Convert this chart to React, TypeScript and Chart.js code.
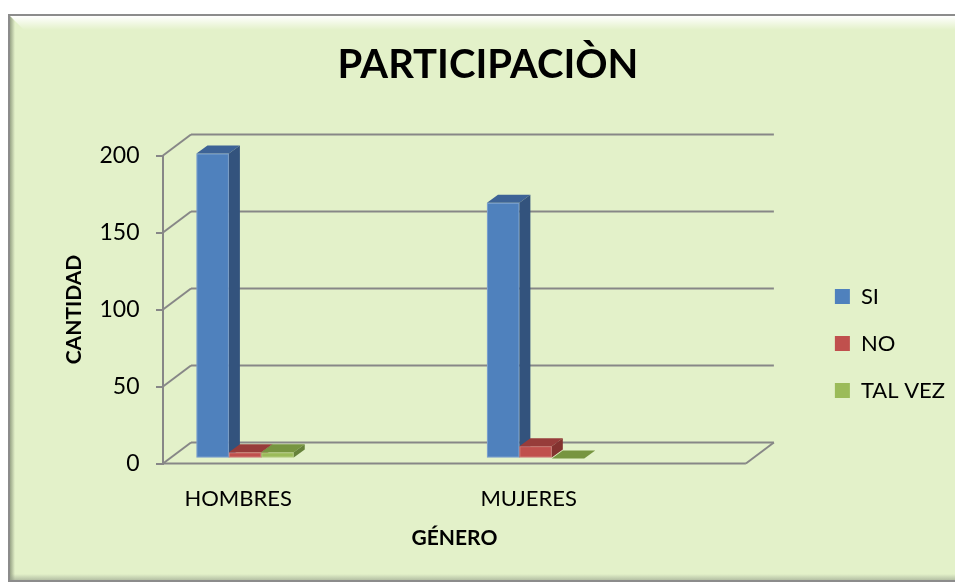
import { useEffect, useRef } from 'react';
import { Chart, registerables } from 'chart.js';

Chart.register(...registerables);

// ---- data ----
const CATEGORIES = ['HOMBRES', 'MUJERES'];
const SERIES_NAMES = ['SI', 'NO', 'TAL VEZ'];
const SI_VALUES = [198, 166];
const NO_VALUES = [4, 8];
const TAL_VEZ_VALUES = [4, 0];
const Y_MIN = 0;
const Y_MAX = 200;
const Y_STEP = 50;
const TITLE = 'PARTICIPACIÒN';
const X_TITLE = 'GÉNERO';
const Y_TITLE = 'CANTIDAD';

// ---- style ----
const FONT = 'Lato, "Open Sans", sans-serif';
const BG = '#E3F1C9';
const GRID = '#878787';
const FRONT = ['#4F81BD', '#C0504D', '#9BBB59'];
const TOP = ['#3D6396', '#973C3A', '#779540'];
const SIDE = ['#33537D', '#83322F', '#66823A'];
const W = 947;
const H = 568;
const WALL_DX = 28;
const WALL_DY = -21;
const BAR_PLANE_DX = 7;
const BAR_PLANE_DY = -5;
const BAR_DEPTH_DX = 11;
const BAR_DEPTH_DY = -8;
const X_MIN = -0.2586;
const X_MAX = 1.748;

const framePlugin = {
  id: 'frame',
  beforeDraw(chart: any) {
    const { ctx, width, height } = chart;
    ctx.save();
    ctx.fillStyle = BG;
    ctx.fillRect(0, 0, width, height);
    const g = ctx.createLinearGradient(0, 2, 0, 16);
    g.addColorStop(0, 'rgba(255,255,255,1)');
    g.addColorStop(1, 'rgba(255,255,255,0)');
    ctx.fillStyle = g;
    ctx.beginPath();
    ctx.moveTo(2, 2);
    ctx.lineTo(width, 2);
    ctx.lineTo(width, 16);
    ctx.lineTo(16, 16);
    ctx.closePath();
    ctx.fill();
    const g2 = ctx.createLinearGradient(2, 0, 7, 0);
    g2.addColorStop(0, 'rgba(90,100,80,0.55)');
    g2.addColorStop(1, 'rgba(90,100,80,0)');
    ctx.fillStyle = g2;
    ctx.beginPath();
    ctx.moveTo(2, 2);
    ctx.lineTo(7, 7);
    ctx.lineTo(7, height);
    ctx.lineTo(2, height);
    ctx.closePath();
    ctx.fill();
    const g3 = ctx.createLinearGradient(0, height - 8, 0, height - 2);
    g3.addColorStop(0, 'rgba(150,160,140,0)');
    g3.addColorStop(1, 'rgba(150,160,140,0.6)');
    ctx.fillStyle = g3;
    ctx.fillRect(0, height - 8, width, 6);
    ctx.strokeStyle = '#8C8C8C';
    ctx.lineWidth = 2;
    ctx.beginPath();
    ctx.moveTo(width + 2, 1);
    ctx.lineTo(1, 1);
    ctx.lineTo(1, height - 1);
    ctx.lineTo(width + 2, height - 1);
    ctx.stroke();
    ctx.restore();
  },
};

const threeDPlugin = {
  id: 'threeD',
  beforeDatasetsDraw(chart: any) {
    const { ctx, chartArea: ca, scales } = chart;
    const ys = scales.y;
    ctx.save();
    ctx.strokeStyle = GRID;
    ctx.lineWidth = 2;
    const line = (x1: number, y1: number, x2: number, y2: number) => {
      ctx.beginPath();
      ctx.moveTo(x1, y1);
      ctx.lineTo(x2, y2);
      ctx.stroke();
    };
    for (const t of ys.ticks) {
      const py = ys.getPixelForValue(t.value);
      line(ca.left, py, ca.left + WALL_DX, py + WALL_DY);
      line(ca.left + WALL_DX, py + WALL_DY, ca.right + WALL_DX, py + WALL_DY);
    }
    const p0 = ys.getPixelForValue(Y_MIN);
    line(ca.left, p0, ca.right, p0);
    line(ca.right, p0, ca.right + WALL_DX, p0 + WALL_DY);

    const metas = chart.getSortedVisibleDatasetMetas();
    for (let i = 0; i < CATEGORIES.length; i++) {
      metas.forEach((meta: any) => {
        const el = meta.data[i];
        if (!el) return;
        const { x, y, base, width } = el.getProps(['x', 'y', 'base', 'width'], true);
        const di = meta.index;
        const L = x - width / 2 + BAR_PLANE_DX;
        const R = x + width / 2 + BAR_PLANE_DX;
        const T = y + BAR_PLANE_DY;
        const B = base + BAR_PLANE_DY;
        ctx.fillStyle = FRONT[di];
        ctx.fillRect(L, T, R - L, B - T);
        ctx.strokeStyle = 'rgba(255,255,255,0.25)';
        ctx.lineWidth = 1;
        if (B - T > 1) ctx.strokeRect(L + 0.5, T + 0.5, R - L - 1, B - T - 1);
        ctx.fillStyle = TOP[di];
        ctx.beginPath();
        ctx.moveTo(L, T);
        ctx.lineTo(R, T);
        ctx.lineTo(R + BAR_DEPTH_DX, T + BAR_DEPTH_DY);
        ctx.lineTo(L + BAR_DEPTH_DX, T + BAR_DEPTH_DY);
        ctx.closePath();
        ctx.fill();
        ctx.fillStyle = SIDE[di];
        ctx.beginPath();
        ctx.moveTo(R, T);
        ctx.lineTo(R + BAR_DEPTH_DX, T + BAR_DEPTH_DY);
        ctx.lineTo(R + BAR_DEPTH_DX, B + BAR_DEPTH_DY);
        ctx.lineTo(R, B);
        ctx.closePath();
        ctx.fill();
      });
    }
    ctx.restore();
    return false;
  },
};

export default function App() {
  const ref = useRef<HTMLCanvasElement | null>(null);
  useEffect(() => {
    if (!ref.current) return;
    const seriesValues = [SI_VALUES, NO_VALUES, TAL_VEZ_VALUES];
    const chart = new Chart(ref.current, {
      type: 'bar',
      data: {
        datasets: SERIES_NAMES.map((name, s) => ({
          label: name,
          data: seriesValues[s].map((v, i) => ({ x: i, y: v })),
          backgroundColor: FRONT[s],
          borderWidth: 0,
          categoryPercentage: 0.335,
          barPercentage: 1,
          xAxisID: 'x',
          yAxisID: 'y',
        })),
      },
      options: {
        responsive: false,
        animation: false,
        devicePixelRatio: 1,
        layout: { padding: { left: 13, right: 0, top: 0, bottom: 0 } },
        plugins: {
          title: {
            display: true,
            text: TITLE,
            color: '#000',
            font: { family: FONT, size: 40, weight: 'bold' },
            padding: { top: 27, bottom: 66.5 },
          },
          legend: {
            position: 'right',
            fullSize: false,
            align: 'center',
            title: { display: true, text: '', padding: { top: 56, bottom: 0 }, font: { size: 10 } },
            labels: {
              boxWidth: 15,
              boxHeight: 15,
              padding: 25,
              color: '#000',
              font: { family: FONT, size: 22 },
            },
          },
          tooltip: { enabled: false },
        },
        scales: {
          x: {
            type: 'linear',
            offset: false,
            min: X_MIN,
            max: X_MAX,
            grid: { display: false, offset: false },
            border: { display: false },
            ticks: {
              stepSize: 1,
              includeBounds: false,
              autoSkip: false,
              maxRotation: 0,
              padding: 14,
              color: '#000',
              font: { family: FONT, size: 22 },
              callback: (v: any) => CATEGORIES[v] ?? '',
            },
            title: {
              display: true,
              text: X_TITLE,
              color: '#000',
              font: { family: FONT, size: 21, weight: 'bold' },
              padding: { top: 0, bottom: 31 },
            },
            afterFit: (s: any) => {
              s.height = 118.5;
            },
          },
          y: {
            type: 'linear',
            min: Y_MIN,
            max: Y_MAX,
            ticks: {
              stepSize: Y_STEP,
              padding: 16.5,
              color: '#000',
              font: { family: FONT, size: 23 },
            },
            grid: { drawOnChartArea: false, drawTicks: true, tickLength: 7, color: GRID, lineWidth: 2 },
            border: { display: true, color: GRID, width: 2 },
            title: {
              display: true,
              text: Y_TITLE,
              color: '#000',
              font: { family: FONT, size: 21, weight: 'bold' },
              padding: { top: 40.5, bottom: 0 },
            },
            afterFit: (s: any) => {
              s.width = 142;
            },
          },
          y2: {
            type: 'linear',
            position: 'right',
            display: true,
            grid: { display: false },
            border: { display: false },
            ticks: { display: false },
            afterFit: (s: any) => {
              s.width = 64;
            },
          },
        },
      },
      plugins: [framePlugin, threeDPlugin],
    } as any);
    return () => chart.destroy();
  }, []);
  return (
    <div style={{ position: 'absolute', left: 8, top: 14, width: W, height: H }}>
      <canvas ref={ref} width={W} height={H} style={{ display: 'block', width: W, height: H }} />
    </div>
  );
}
